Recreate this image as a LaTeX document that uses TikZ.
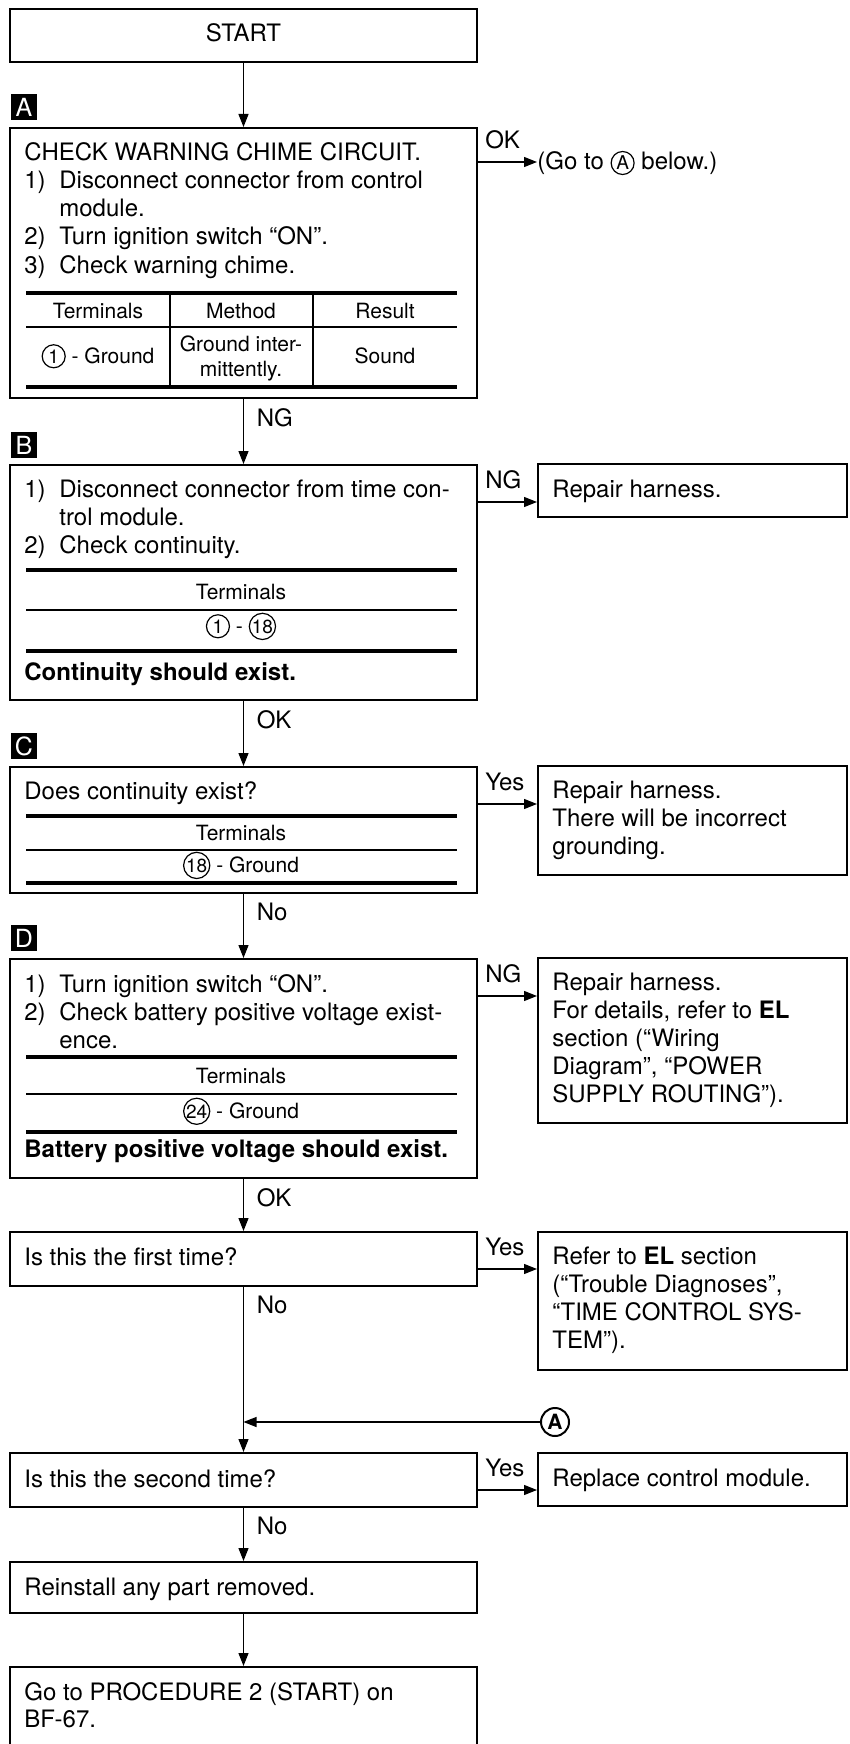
\documentclass[tikz,border=0pt]{standalone}
\usepackage{fontspec}
\setmainfont{TeX Gyre Heros}
\usetikzlibrary{arrows.meta,fit}

\newcommand{\cnum}[1]{\tikz[baseline=(cn.base)]\node[draw,circle,line width=.6pt,inner sep=.2pt,minimum size=11.5pt,font=\fontsize{9.5}{10}\selectfont] (cn) {#1};}

\begin{document}
\begin{tikzpicture}[x=.5pt,y=-.5pt,>={Triangle[length=6.5pt,width=5pt]},
  font=\fontsize{12}{14}\selectfont,
  box/.style={draw,line width=1pt,inner sep=0pt},
  txt/.style={anchor=base west,inner sep=0pt},
  cell/.style={anchor=base,inner sep=0pt,font=\fontsize{10.5}{12}\selectfont},
  heavy/.style={line width=2pt},
  light/.style={line width=.7pt},
  link/.style={->,line width=.6pt},
  badge/.style={fill=black,text=white,inner sep=0pt,minimum size=13pt,font=\fontsize{12.5}{12.5}\selectfont}]
  \useasboundingbox (0,0) rectangle (850,1744);

  % left column
  \node[box,fit={(10,9)(477,62)}] (start) {};
  \node[txt,anchor=base] (startT) at (243.5,42) {START};

  \node[box,fit={(10,128)(477,398)}] (A) {};
  \node[badge] (bA) at (24,107) {A};
  \node[txt] (a0) at (24,161) {CHECK WARNING CHIME CIRCUIT.};
  \node[txt] (a1) at (24,189) {1)};
  \node[txt] (a1t) at (59,189) {Disconnect connector from control};
  \node[txt] (a1u) at (59,217) {module.};
  \node[txt] (a2) at (24,245) {2)};
  \node[txt] (a2t) at (59,245) {Turn ignition switch “ON”.};
  \node[txt] (a3) at (24,273) {3)};
  \node[txt] (a3t) at (59,273) {Check warning chime.};
  \draw[heavy] (26,293) -- (457,293);
  \draw[light] (26,327) -- (457,327);
  \draw[heavy] (26,387) -- (457,387);
  \draw[light] (170,293) -- (170,387) (313,293) -- (313,387);
  \node[cell] (h1) at (98,318) {Terminals};
  \node[cell] (h2) at (241,318) {Method};
  \node[cell] (h3) at (385,318) {Result};
  \node[cell] (c1) at (98,363) {\cnum{1} - Ground};
  \node[cell] (c2) at (241,351) {Ground inter-};
  \node[cell] (c2b) at (241,376) {mittently.};
  \node[cell] (c3) at (385,363) {Sound};
  \node[anchor=west,inner sep=0pt] (goA) at (537,163) {(Go to \cnum{A} below.)};

  \node[box,fit={(10,465)(477,700)}] (B) {};
  \node[badge] (bB) at (24,445) {B};
  \node[txt] (b1) at (24,497) {1)};
  \node[txt] (b1t) at (59,497) {Disconnect connector from time con-};
  \node[txt] (b1u) at (59,525) {trol module.};
  \node[txt] (b2) at (24,553) {2)};
  \node[txt] (b2t) at (59,553) {Check continuity.};
  \draw[heavy] (26,570) -- (457,570);
  \node[cell] (bh) at (241,599) {Terminals};
  \draw[light] (26,610) -- (457,610);
  \node[cell] (bc) at (241,633) {\cnum{1} - \cnum{18}};
  \draw[heavy] (26,651) -- (457,651);
  \node[txt,font=\bfseries\fontsize{12}{14}\selectfont] (b3) at (24,680) {Continuity should exist.};

  \node[box,fit={(10,767)(477,893)}] (C) {};
  \node[badge] (bC) at (24,746) {C};
  \node[txt] (c0) at (24,799) {Does continuity exist?};
  \draw[heavy] (26,816) -- (457,816);
  \node[cell] (ch) at (241,840) {Terminals};
  \draw[light] (26,850) -- (457,850);
  \node[cell] (cc) at (241,872) {\cnum{18} - Ground};
  \draw[heavy] (26,883) -- (457,883);

  \node[box,fit={(10,959)(477,1178)}] (D) {};
  \node[badge] (bD) at (24,938) {D};
  \node[txt] (d1) at (24,992) {1)};
  \node[txt] (d1t) at (59,992) {Turn ignition switch “ON”.};
  \node[txt] (d2) at (24,1020) {2)};
  \node[txt] (d2t) at (59,1020) {Check battery positive voltage exist-};
  \node[txt] (d2u) at (59,1048) {ence.};
  \draw[heavy] (26,1057) -- (457,1057);
  \node[cell] (dh) at (241,1083) {Terminals};
  \draw[light] (26,1094) -- (457,1094);
  \node[cell] (dc) at (241,1118) {\cnum{24} - Ground};
  \draw[heavy] (26,1132) -- (457,1132);
  \node[txt,font=\bfseries\fontsize{12}{14}\selectfont] (d3) at (24,1157) {Battery positive voltage should exist.};

  \node[box,fit={(10,1232)(477,1286)}] (E) {};
  \node[txt] (e0) at (24,1265) {Is this the first time?};
  \node[box,fit={(10,1453)(477,1507)}] (F) {};
  \node[txt] (f0) at (24,1487) {Is this the second time?};
  \node[box,fit={(10,1562)(477,1613)}] (G) {};
  \node[txt] (g0) at (24,1595) {Reinstall any part removed.};
  \node[box,fit={(10,1667)(477,1770)}] (H) {};
  \node[txt] (h0) at (24,1700) {Go to PROCEDURE 2 (START) on};
  \node[txt] (h0b) at (24,1727) {BF-67.};

  % right column
  \node[box,fit={(538,464)(847,517)}] (rB) {};
  \node[txt] (rb0) at (552,497) {Repair harness.};
  \node[box,fit={(538,766)(847,875)}] (rC) {};
  \node[txt] (rc0) at (552,798) {Repair harness.};
  \node[txt] (rc1) at (552,826) {There will be incorrect};
  \node[txt] (rc2) at (552,854) {grounding.};
  \node[box,fit={(538,958)(847,1123)}] (rD) {};
  \node[txt] (rd0) at (552,990) {Repair harness.};
  \node[txt] (rd1) at (552,1018) {For details, refer to \textbf{EL}};
  \node[txt] (rd2) at (552,1046) {section (“Wiring};
  \node[txt] (rd3) at (552,1074) {Diagram”, “POWER};
  \node[txt] (rd4) at (552,1102) {SUPPLY ROUTING”).};
  \node[box,fit={(538,1232)(847,1370)}] (rE) {};
  \node[txt] (re0) at (552,1264) {Refer to \textbf{EL} section};
  \node[txt] (re1) at (552,1292) {(“Trouble Diagnoses”,};
  \node[txt] (re2) at (552,1320) {“TIME CONTROL SYS-};
  \node[txt] (re3) at (552,1348) {TEM”).};
  \node[box,fit={(538,1453)(847,1506)}] (rF) {};
  \node[txt] (rf0) at (552,1486) {Replace control module.};
  \node[draw,circle,line width=1pt,inner sep=.5pt,minimum size=14pt,font=\bfseries\fontsize{10.5}{11}\selectfont] (conA) at (555,1422) {A};

  % connectors down
  \draw[link] (start) -- (A);
  \draw[link] (A) -- (B) node[pos=0,below right,xshift=3pt,yshift=-1pt] (lAB) {NG};
  \draw[link] (B) -- (C) node[pos=0,below right,xshift=3pt,yshift=-1pt] (lBC) {OK};
  \draw[link] (C) -- (D) node[pos=0,below right,xshift=3pt,yshift=-1pt] (lCD) {No};
  \draw[link] (D) -- (E) node[pos=0,below right,xshift=3pt,yshift=-1pt] (lDE) {OK};
  \draw[link] (E) -- (F) node[pos=0,below right,xshift=3pt,yshift=-1pt] (lEF) {No};
  \draw[link] (F) -- (G) node[pos=0,below right,xshift=3pt,yshift=-1pt] (lFG) {No};
  \draw[link] (G) -- (H);
  \draw[link] (conA) -- (conA -| E.south);

  % connectors right
  \coordinate (aOut) at ([yshift=-17.5pt]A.north east);
  \draw[link] (aOut) -- (aOut -| goA.west) node[pos=0,above right,yshift=3pt] (lA) {OK};
  \foreach \src/\dst/\lab in {B/rB/NG,C/rC/Yes,D/rD/NG,E/rE/Yes,F/rF/Yes}{
    \coordinate (\src out) at ([yshift=-19pt]\src.north east);
    \draw[link] (\src out) -- (\src out -| \dst.west) node[pos=0,above right,yshift=3pt] (l\src) {\lab};
  }
\end{tikzpicture}
\end{document}
